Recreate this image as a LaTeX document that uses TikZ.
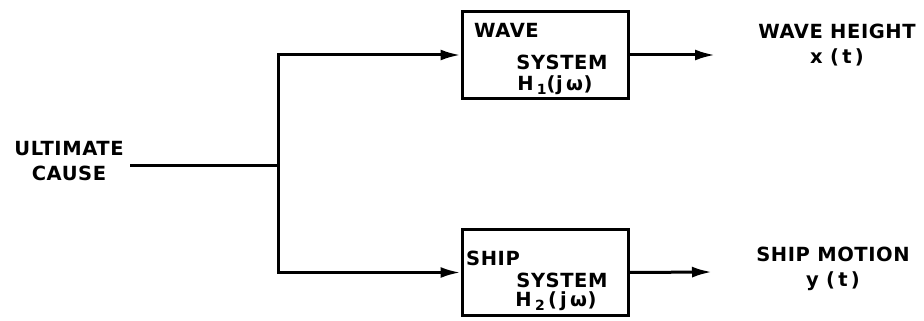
\documentclass[tikz,border=0pt]{standalone}
\usepackage{fontspec}
\setmainfont{DejaVu Sans}[BoldFont={DejaVu Sans Bold}]
\newfontfamily\lbl{DejaVu Sans Bold}[LetterSpace=3]
\usetikzlibrary{arrows.meta}
\begin{document}
\begin{tikzpicture}[x=1pt,y=-1pt,
  every node/.style={font=\lbl\fontsize{19.5}{25}\selectfont, inner sep=0pt},
  sysbox/.style={draw, line width=3pt, minimum width=166pt, minimum height=86pt},
  wire/.style={line width=3pt},
  arrow/.style={wire, -{Latex[length=20pt,width=11pt]}}]
\useasboundingbox (0,0) rectangle (924,321);
% boxes
\node[sysbox] (wave) at (545,55) {};
\node[sysbox] (ship) at (545,272.5) {};
% box texts
\node[anchor=west] (waveA) at (474,30) {WAVE};
\node (waveB) at (562,62) {SYSTEM};
\node (waveC) at (555,85) {H\,\raisebox{-0.35ex}{\fontsize{14}{14}\selectfont 1}(j\,ω)};
\node[anchor=west] (shipA) at (466,258) {SHIP};
\node (shipB) at (562,280) {SYSTEM};
\node (shipC) at (556,301) {H\,\raisebox{-0.35ex}{\fontsize{14}{14}\selectfont 2}\,(\,j\,ω)};
% source
\node[align=center] (cause) at (69,161.5) {ULTIMATE\\CAUSE};
\coordinate (j) at (278,165);
\draw[wire] (130,165) -- (j);
\draw[arrow] (j) |- (wave.west);
\draw[arrow] (j) |- (ship.west);
% outputs
\coordinate (o1) at (715,55);
\coordinate (o2) at (712,272);
\draw[arrow] (wave.east) -- (o1);
\draw[arrow] (ship.east) -- (o2);
\node[align=center] (wh) at (837,45.5) {WAVE HEIGHT\\x (\,t\,)};
\node[align=center] (sm) at (833,269) {SHIP MOTION\\y (\,t\,)};
\end{tikzpicture}
\end{document}
